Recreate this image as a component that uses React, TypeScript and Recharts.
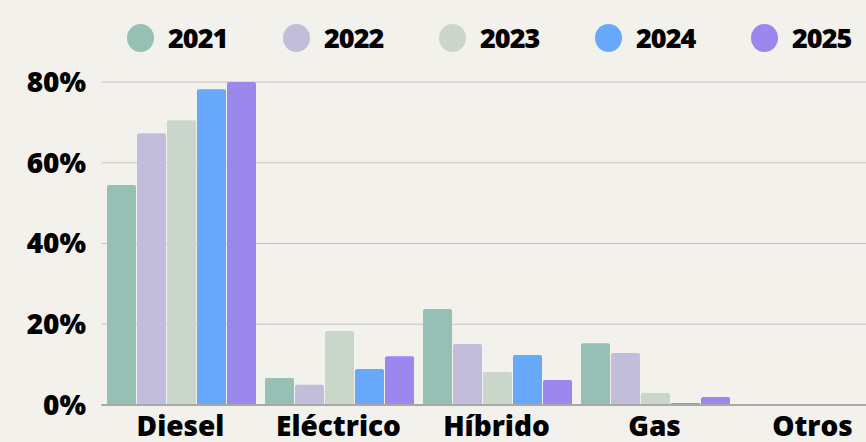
import { BarChart, Bar, XAxis, YAxis, CartesianGrid } from "recharts";

const categories = ["Diesel", "Eléctrico", "Híbrido", "Gas", "Otros"];
const years = ["2021", "2022", "2023", "2024", "2025"];
const colors = ["#96c0b3", "#c2bddb", "#cbd6cb", "#67a8fb", "#9a88ee"];

const v2021 = [54.5, 6.7, 23.8, 15.3, 0];
const v2022 = [67.3, 5.0, 15.1, 12.9, 0.2];
const v2023 = [70.5, 18.3, 8.2, 3.0, 0];
const v2024 = [78.2, 8.9, 12.4, 0.5, 0];
const v2025 = [80, 12.1, 6.2, 2.0, 0];
const yTicks = [0, 20, 40, 60, 80];

const seriesValues = [v2021, v2022, v2023, v2024, v2025];

const data = categories.map((name, i) => {
  const row: Record<string, string | number> = { name };
  years.forEach((y, j) => {
    row[y] = seriesValues[j][i];
  });
  return row;
});

const BG = "#f2f1ec";
const FONT = "'Open Sans', sans-serif";

function LegendRow() {
  return (
    <div
      style={{
        position: "absolute",
        left: 127,
        top: 19,
        display: "flex",
        gap: 53,
        alignItems: "center",
        fontFamily: FONT,
        fontWeight: 800,
        fontSize: 27,
        color: "#000",
      }}
    >
      {years.map((y, i) => (
        <div key={y} style={{ display: "flex", alignItems: "center", gap: 14 }}>
          <span
            style={{
              width: 27,
              height: 28,
              borderRadius: "50%",
              background: colors[i],
              display: "inline-block",
            }}
          />
          <span style={{ width: 62, letterSpacing: -1 }}>{y}</span>
        </div>
      ))}
    </div>
  );
}

export default function App() {
  return (
    <div
      style={{
        position: "absolute",
        left: 0,
        top: 0,
        width: 866,
        height: 442,
        overflow: "hidden",
        background: BG,
      }}
    >
      <LegendRow />
      <div style={{ position: "absolute", left: 0, top: 0 }}>
        <BarChart
          width={900}
          height={442}
          data={data}
          margin={{ top: 82, right: 8.5, bottom: 0, left: 0 }}
          barCategoryGap={5.5}
          barGap={1}
        >
          <CartesianGrid vertical={false} stroke="#c4c4c2" strokeWidth={1.2} />
          <XAxis
            dataKey="name"
            height={37}
            tickLine={false}
            tickSize={0}
            tickMargin={11}
            axisLine={{ stroke: "#a8a8a6", strokeWidth: 2 }}
            tick={{ fill: "#000", fontSize: 28, fontWeight: 800, fontFamily: FONT }}
            interval={0}
          />
          <YAxis
            width={101.5}
            domain={[0, 80]}
            ticks={yTicks}
            tickFormatter={(v) => `${v}%`}
            axisLine={false}
            tickLine={false}
            tickSize={0}
            tickMargin={15.5}
            tick={{ fill: "#000", fontSize: 28, fontWeight: 800, fontFamily: FONT }}
          />
          {years.map((y, i) => (
            <Bar
              key={y}
              dataKey={y}
              fill={colors[i]}
              radius={[2, 2, 0, 0]}
              isAnimationActive={false}
            />
          ))}
        </BarChart>
      </div>
    </div>
  );
}
